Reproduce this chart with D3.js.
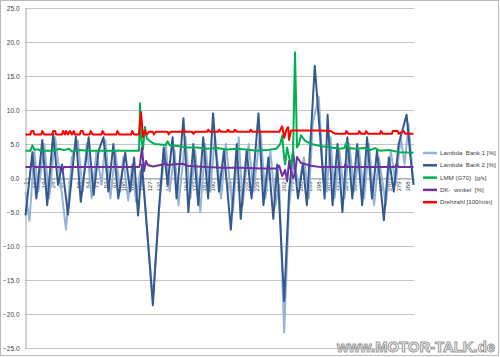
<!DOCTYPE html>
<html><head><meta charset="utf-8">
<script src="https://cdn.jsdelivr.net/npm/d3@7"></script>
<style>body{margin:0;background:#fff}svg{display:block}</style>
</head><body>
<svg id="c" width="500" height="357"></svg>
<script>
const N = 394;
const xTickLabels = [1,10,19,28,37,46,55,64,73,82,91,100,109,118,127,136,145,154,163,172,181,190,199,208,217,226,235,244,253,262,271,280,289,298,307,316,325,334,343,352,361,370,379,388];
const yTicks = [-25,-20,-15,-10,-5,0,5,10,15,20,25];
const seriesNames = ["Lambda  Bank 1 [%]","Lambda  Bank 2 [%]","LMM (G70)  [g/s]","DK-  winkel  [%]","Drehzahl [100/min]"];
const seriesColors = ["#95b3d7","#34598f","#00b050","#7030a0","#ff0000"];

// [category, value]
const lambda1 = [[1,-2],[5,-6.3],[10,4],[14,-2],[20,5],[25,-3],[31,6],[36,0],[42,-7.6],[48,3],[54,5.5],[59,-2],[63,5],[68,-3],[73,4],[78,-1],[82,5.5],[87,-3],[92,4],[97,-2],[100,3],[105,-3.3],[109,2],[113,-3.5],[117,1],[121,-2],[130,-17.8],[137,-3],[143,5],[147,-2],[152,4],[156,-4],[163,6],[168,-3],[173,4],[178,-5],[183,5],[188,-2],[193,6],[199,-3],[204,5],[211,-5],[217,6],[221,-4],[227,5],[232,-2],[239,7],[244,-3],[249,4],[254,-4],[258,-1],[263,-22.7],[268,-4],[273,2],[278,-1],[283,3],[288,-3],[292,8],[298,12],[302,2],[306,-2],[310,6],[314,-3],[319,4],[324,-3],[329,5],[334,-2],[339,4],[344,-3],[349,5],[354,-4],[359,3],[366,-4],[371,4],[376,-1],[381,6],[385,2],[389,8],[394,-1]];
const lambda2 = [[1,-5.5],[8,3.8],[12,-3],[18,5.6],[23,-4],[29,6.5],[34,-1],[38,2],[44,-5.4],[52,6.1],[57,-3.5],[65,6],[70,-2.5],[75,4],[80,6],[85,-2],[90,5],[95,-3],[102,3.7],[107,-2],[111,3],[115,-5.5],[119,2],[130,-18.7],[136,-5],[141,4.5],[145,-1],[150,6],[154,-3],[161,8.8],[166,-5],[171,5],[176,-4],[181,6],[186,-3],[191,9.5],[197,-2],[202,4],[209,-7.6],[215,5],[219,-6],[225,4],[230,-3],[237,9.5],[242,-4],[247,3],[252,-6],[256,2],[263,-18.1],[268,-2],[272,4],[277,-3],[282,2],[286,-4],[294,16.5],[300,5],[304,-3],[307,9.3],[312,-4],[317,5],[322,-5],[327,6],[332,-3],[337,5],[342,-4],[347,6],[352,-3],[357,4],[364,-6.2],[369,3],[374,-2],[379,5],[387,9.3],[391,3],[394,-1]];
const lmm = [[1,4.0],[6,4.0],[8,4.8],[10,4.2],[14,4.2],[16,4.0],[30,4.0],[35,4.3],[40,4.1],[45,4.3],[48,3.9],[55,4.1],[65,4.0],[80,4.0],[90,4.0],[100,4.0],[116,4.0],[117,11.0],[118,6.0],[120,4.2],[122,7.5],[124,5.8],[128,5.3],[132,5.0],[140,4.9],[143,4.85],[145,5.4],[147,4.8],[155,4.7],[165,4.5],[175,4.5],[185,4.3],[195,4.4],[205,4.2],[215,4.3],[225,4.2],[235,4.0],[245,4.1],[255,4.3],[259,5.0],[261,6.2],[263,3.0],[264,2.0],[266,4.5],[268,3.0],[270,1.8],[272,4.0],[274,18.5],[276,4.5],[278,5.0],[280,6.3],[284,5.5],[290,5.0],[300,4.7],[310,4.5],[320,4.3],[324,4.4],[326,5.2],[328,4.4],[335,4.3],[345,4.4],[350,4.1],[355,4.4],[360,4.0],[370,4.1],[380,3.8],[394,3.7]];
const dk = [[1,1.6],[6,1.6],[8,1.9],[10,1.6],[36,1.6],[38,1.1],[40,1.6],[116,1.6],[117,2.0],[119,4.5],[121,1.0],[123,2.5],[125,1.9],[130,1.7],[140,2.0],[143,2.2],[145,1.9],[150,2.0],[160,2.1],[165,1.8],[175,1.7],[185,1.6],[200,1.5],[220,1.5],[240,1.4],[255,1.4],[258,1.8],[261,0.3],[264,1.2],[266,-0.5],[268,2.5],[270,1.0],[272,0.0],[274,0.5],[276,3.1],[280,2.2],[290,1.8],[300,1.6],[320,1.6],[324,1.6],[325,2.0],[327,1.6],[375,1.6],[377,2.0],[379,1.6],[394,1.6]];
const drehzahl = [[1,6.4],[6,6.4],[7,6.9],[9,6.9],[10,6.4],[17,6.4],[18,6.9],[20,6.4],[28,6.4],[29,6.9],[31,6.9],[32,6.4],[38,6.4],[39,6.9],[41,6.4],[42,6.9],[44,6.4],[46,6.9],[48,6.4],[50,6.9],[51,6.4],[56,6.4],[57,6.9],[59,6.9],[60,6.4],[66,6.4],[67,6.9],[69,6.4],[78,6.4],[79,6.9],[81,6.4],[93,6.4],[94,6.9],[96,6.4],[108,6.4],[109,6.9],[111,6.4],[116,6.4],[118,9.7],[120,6.0],[122,7.0],[124,6.4],[126,6.8],[130,6.8],[131,6.4],[133,6.8],[145,6.8],[146,6.4],[148,6.8],[160,6.8],[161,7.1],[163,6.8],[170,6.8],[171,6.5],[173,6.8],[185,6.8],[186,7.1],[188,6.8],[196,6.8],[197,7.1],[199,6.8],[205,6.8],[206,7.1],[208,6.8],[212,6.8],[213,7.1],[215,6.8],[228,6.8],[229,7.1],[231,6.8],[252,6.8],[258,6.8],[261,7.6],[263,5.9],[265,7.0],[267,7.5],[268,5.6],[270,7.0],[290,7.0],[300,7.0],[310,6.9],[315,6.5],[325,6.5],[326,6.9],[328,6.5],[338,6.5],[339,6.9],[341,6.5],[345,6.5],[346,6.9],[348,6.5],[360,6.5],[361,6.9],[363,6.5],[372,6.5],[373,6.9],[378,6.9],[379,6.5],[384,6.9],[386,6.5],[394,6.5]];
const allSeries = [lambda1, lambda2, lmm, dk, drehzahl];

const svg = d3.select("#c");
const font = "'Liberation Sans', Arial, sans-serif";
svg.append("rect").attr("x",0.5).attr("y",0.5).attr("width",498).attr("height",355)
  .attr("fill","#fff").attr("stroke","#b8b8b8");

const plot = {l:25, r:414, t:8, b:348};
const x = d3.scaleLinear().domain([0.5, N+0.5]).range([plot.l, plot.r]);
const y = d3.scaleLinear().domain([-25, 25]).range([plot.b, plot.t]);

// gridlines
svg.append("g").selectAll("line").data(yTicks).join("line")
  .attr("x1",plot.l).attr("x2",plot.r)
  .attr("y1",d=>Math.round(y(d))+0.5).attr("y2",d=>Math.round(y(d))+0.5)
  .attr("stroke","#c4c4c4").attr("stroke-width",1);

// y axis
const yAxis = svg.append("g").attr("transform",`translate(${plot.l+0.5},0)`)
  .call(d3.axisLeft(y).tickValues(yTicks).tickFormat(d3.format(".1f")).tickSize(0).tickPadding(6));
yAxis.select(".domain").attr("stroke","#a6a6a6");
yAxis.selectAll("text").attr("font-family",font).attr("font-size",6.5).attr("fill","#404040");

// x axis at zero
const xAxis = svg.append("g").attr("transform",`translate(0,${Math.round(y(0))+0.5})`)
  .call(d3.axisBottom(x).tickValues(xTickLabels).tickFormat(d=>d).tickSize(2));
xAxis.select(".domain").attr("stroke","#a6a6a6");
xAxis.selectAll(".tick line").attr("stroke","#a6a6a6");
xAxis.selectAll("text").attr("font-family",font).attr("font-size",6).attr("fill","#404040")
  .attr("transform","rotate(-90)").attr("text-anchor","end").attr("dy","0.32em").attr("x",-3).attr("y",0);

// series
const line = d3.line().x(d=>x(d[0])).y(d=>y(d[1]));
const widths = [2,2,2,2,2];
allSeries.forEach((s,i)=>{
  svg.append("path").datum(s).attr("d",line).attr("fill","none")
    .attr("stroke",seriesColors[i]).attr("stroke-width",widths[i]).attr("stroke-linejoin","round");
});

// legend
const lg = svg.append("g");
seriesNames.forEach((n,i)=>{
  const yy = 153 + i*12.3;
  lg.append("line").attr("x1",423).attr("x2",437).attr("y1",yy).attr("y2",yy)
    .attr("stroke",seriesColors[i]).attr("stroke-width",2.5);
  lg.append("text").attr("x",440).attr("y",yy).attr("dy","0.33em").text(n)
    .attr("font-family",font).attr("font-size",6.2).attr("fill","#404040").attr("xml:space","preserve");
});

// watermark
svg.append("text").attr("x",495).attr("y",352).attr("text-anchor","end")
  .attr("font-family",font).attr("font-weight","bold").attr("font-size",15)
  .attr("textLength",158).attr("lengthAdjust","spacingAndGlyphs")
  .attr("fill","#fff").attr("stroke","#9a9a9a").attr("stroke-width",1)
  .text("www.MOTOR-TALK.de");
</script>
</body></html>
